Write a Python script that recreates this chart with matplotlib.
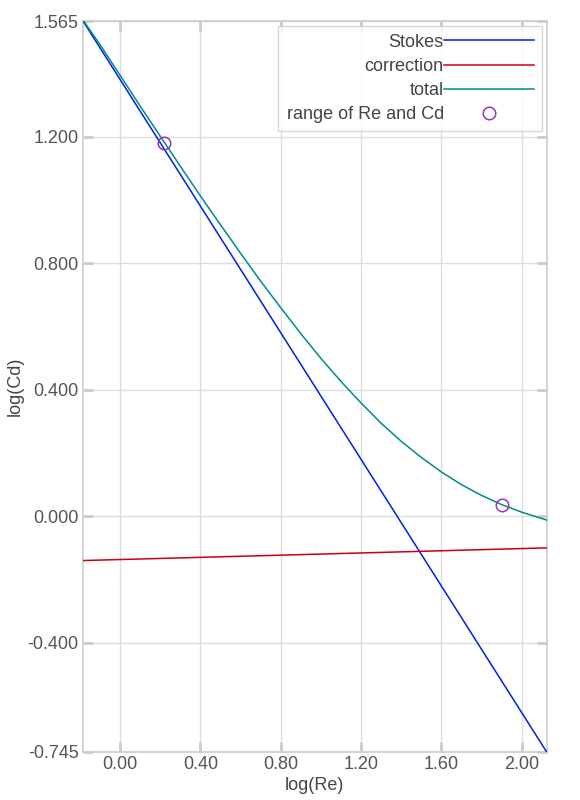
import matplotlib
matplotlib.use("Agg")
import matplotlib.pyplot as plt

# Data
stokes_x = [-0.185, 2.125]
stokes_y = [1.565, -0.745]

corr_x = [-0.185, 2.125]
corr_y = [-0.140, -0.100]

total_x = [-0.185, -0.1, 0.0, 0.1, 0.2, 0.3, 0.4, 0.5, 0.6, 0.7, 0.8, 0.9, 1.0,
           1.1, 1.2, 1.3, 1.4, 1.5, 1.6, 1.7, 1.8, 1.9, 2.0, 2.125]
total_y = [1.568, 1.490, 1.393, 1.296, 1.201, 1.106, 1.012, 0.921, 0.831, 0.743,
           0.659, 0.577, 0.499, 0.426, 0.358, 0.294, 0.237, 0.186, 0.140, 0.100,
           0.066, 0.037, 0.013, -0.012]

range_x = [0.22, 1.90]
range_y = [1.181, 0.037]

xticks = [0.0, 0.4, 0.8, 1.2, 1.6, 2.0]
xtick_labels = ["0.00", "0.40", "0.80", "1.20", "1.60", "2.00"]
yticks = [-0.745, -0.4, 0.0, 0.4, 0.8, 1.2, 1.565]
ytick_labels = ["-0.745", "-0.400", "0.000", "0.400", "0.800", "1.200", "1.565"]

plt.rcParams['font.family'] = ['Liberation Sans', 'DejaVu Sans']

fig = plt.figure(figsize=(5.8, 8), dpi=100)
ax = fig.add_axes([83/580, 48/800, (546.7-83)/580, (752-21)/800])

ax.plot(stokes_x, stokes_y, color='#0022dd', lw=1.1, label='Stokes', zorder=3)
ax.plot(corr_x, corr_y, color='#cc0011', lw=1.1, label='correction', zorder=3)
ax.plot(total_x, total_y, color='#008b8b', lw=1.1, label='total', zorder=4)
ax.plot(range_x, range_y, linestyle='none', marker='o', markersize=9,
        markerfacecolor='none', markeredgecolor='#9933bb', markeredgewidth=1.1,
        label='range of Re and Cd', zorder=5)

ax.set_xlim(-0.185, 2.125)
ax.set_ylim(-0.745, 1.565)
ax.set_xticks(xticks)
ax.set_xticklabels(xtick_labels)
ax.set_yticks(yticks)
ax.set_yticklabels(ytick_labels)

ax.grid(True, color='#dddddd', lw=1)
ax.set_axisbelow(True)
for s in ax.spines.values():
    s.set_color('#cccccc')
    s.set_linewidth(1.2)
ax.tick_params(direction='in', length=7, width=2, color='#cccccc',
               labelsize=13, labelcolor='#555555', top=True, right=True, pad=3)

ax.set_xlabel('log(Re)', fontsize=13, color='#444444', labelpad=3)
ax.set_ylabel('log(Cd)', fontsize=13, color='#444444', labelpad=3)

leg = ax.legend(loc='upper right', markerfirst=False, fontsize=13, frameon=True,
                fancybox=False, handlelength=5.0, handletextpad=0.0,
                labelspacing=0.4, borderpad=0.45, borderaxespad=0.25)
leg.get_frame().set_edgecolor('#cccccc')
leg.get_frame().set_linewidth(1.0)
for t in leg.get_texts():
    t.set_color('#444444')

fig.savefig('out.png', dpi=100)
